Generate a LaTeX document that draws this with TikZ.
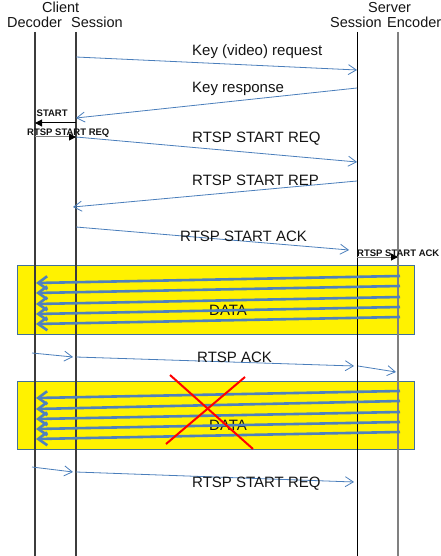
\documentclass[tikz,border=0pt]{standalone}
\usepackage{fontspec}
\setmainfont{Liberation Sans}
\usetikzlibrary{arrows.meta}
\definecolor{msgblue}{RGB}{74,126,187}
\definecolor{datablue}{RGB}{79,129,189}
\definecolor{boxedge}{RGB}{65,113,156}
\definecolor{lifedark}{RGB}{60,60,60}
\definecolor{lifegray}{RGB}{128,128,128}
\definecolor{txt}{RGB}{20,20,20}
\begin{document}
\begin{tikzpicture}[x=1pt,y=-1pt,
  lbl/.style={font=\fontsize{15}{17}\selectfont, text=txt, inner sep=0pt, anchor=base west},
  hdr/.style={font=\fontsize{14.5}{16}\selectfont, text=txt, inner sep=0pt, anchor=base west},
  smalllbl/.style={font=\fontsize{9.5}{10}\selectfont\bfseries, text=txt, inner sep=0pt, anchor=base west},
  msg/.style={draw=msgblue, line width=0.8pt, -{Straight Barb[length=8pt,width=10pt]}},
  dataarrow/.style={draw=datablue, line width=2.6pt, -{Straight Barb[length=9pt,width=13pt]}},
  localarrow/.style={line width=1pt, -{Triangle[length=7pt,width=7pt]}},
  databox/.style={draw=boxedge, line width=1.3pt, fill=yellow},
  cross/.style={draw=red, line width=2pt},
  lifeA/.style={draw=lifedark, line width=1.2pt},
  lifeB/.style={draw=black, line width=0.9pt},
  lifeC/.style={draw=lifegray, line width=1.5pt}]
\useasboundingbox (0,0) rectangle (441,556);

% headers
\node[hdr] (hclient) at (42,13) {Client};
\node[hdr] (hdec) at (7,28) {Decoder};
\node[hdr] (hcs) at (71,28) {Session};
\node[hdr] (hserver) at (368,13) {Server};
\node[hdr] (hss) at (330,28) {Session};
\node[hdr] (henc) at (387,28) {Encoder};

% lifeline coordinates
\coordinate (decT) at (35,32);  \coordinate (decB) at (35,556);
\coordinate (csT) at (76,32);   \coordinate (csB) at (76,556);
\coordinate (ssT) at (357,32);  \coordinate (ssB) at (357,556);
\coordinate (encT) at (398,32); \coordinate (encB) at (398,556);

% data boxes
\node[databox, minimum width=397pt, minimum height=69pt, inner sep=0pt, anchor=north west] (box1) at (17,265) {};
\node[databox, minimum width=397pt, minimum height=68pt, inner sep=0pt, anchor=north west] (box2) at (17,381) {};

% lifelines
\draw[lifeA] (decT) -- (decB);
\draw[lifeA] (csT) -- (csB);
\draw[lifeB] (ssT) -- (ssB);
\draw[lifeC] (encT) -- (encB);

% messages
\coordinate (m1a) at (76,57);   \coordinate (m1b) at (357,70);
\draw[msg] (m1a) -- (m1b);
\node[lbl] (l1) at (192,56) {Key (video) request};

\coordinate (m2a) at (357,88);  \coordinate (m2b) at (76,118);
\draw[msg] (m2a) -- (m2b);
\node[lbl] (l2) at (192,93) {Key response};

\coordinate (s1a) at (76,123);  \coordinate (s1b) at (35,123);
\draw[localarrow, draw=black, fill=black] (s1a) -- (s1b);
\node[smalllbl] (sl1) at (36.5,117) {START};

\coordinate (s2a) at (35,137);  \coordinate (s2b) at (76,137);
\draw[localarrow, draw=lifegray, -{Triangle[length=7pt,width=7pt,color=black]}] (s2a) -- (s2b);
\node[smalllbl] (sl2) at (27,136) {RTSP START REQ};

\coordinate (m3a) at (76,137);  \coordinate (m3b) at (357,162);
\draw[msg] (m3a) -- (m3b);
\node[lbl] (l3) at (192,143) {RTSP START REQ};

\coordinate (m4a) at (357,181); \coordinate (m4b) at (73,207);
\draw[msg] (m4a) -- (m4b);
\node[lbl] (l4) at (192,185) {RTSP START REP};

\coordinate (m5a) at (76,227);  \coordinate (m5b) at (349,250);
\draw[msg] (m5a) -- (m5b);
\node[lbl] (l5) at (180,241) {RTSP START ACK};

\coordinate (s3a) at (357,257); \coordinate (s3b) at (398,257);
\draw[localarrow, draw=lifegray, -{Triangle[length=7pt,width=7pt,color=black]}] (s3a) -- (s3b);
\node[smalllbl] (sl3) at (357,256) {RTSP START ACK};

% data block 1
\node[lbl] (d1) at (209,315) {DATA};
\foreach \ys/\ye [count=\i] in {276/283,286/293,297/304,307/314,317/324}{
  \coordinate (da\i) at (400,\ys); \coordinate (db\i) at (36,\ye);
  \draw[dataarrow] (da\i) -- (db\i);
}

% RTSP ACK
\coordinate (a1a) at (32,353);  \coordinate (a1b) at (73,357);
\coordinate (a2a) at (76,357);  \coordinate (a2b) at (354,366);
\coordinate (a3a) at (358,366); \coordinate (a3b) at (396,372);
\draw[msg] (a1a) -- (a1b);
\draw[msg] (a2a) -- (a2b);
\draw[msg] (a3a) -- (a3b);
\node[lbl] (l6) at (197,362) {RTSP ACK};

% data block 2
\node[lbl] (d2) at (209,430) {DATA};
\foreach \ys/\ye [count=\i] in {391/398,401/409,412/419,422/429,432/439}{
  \coordinate (ea\i) at (400,\ys); \coordinate (eb\i) at (36,\ye);
  \draw[dataarrow] (ea\i) -- (eb\i);
}
\coordinate (x1a) at (170,375); \coordinate (x1b) at (253,449);
\coordinate (x2a) at (245,377); \coordinate (x2b) at (166,444);
\draw[cross] (x1a) -- (x1b);
\draw[cross] (x2a) -- (x2b);

% last RTSP START REQ
\coordinate (r1a) at (32,467);  \coordinate (r1b) at (73,472);
\coordinate (r2a) at (76,472);  \coordinate (r2b) at (354,482);
\draw[msg] (r1a) -- (r1b);
\draw[msg] (r2a) -- (r2b);
\node[lbl] (l7) at (192,487) {RTSP START REQ};
\end{tikzpicture}
\end{document}
